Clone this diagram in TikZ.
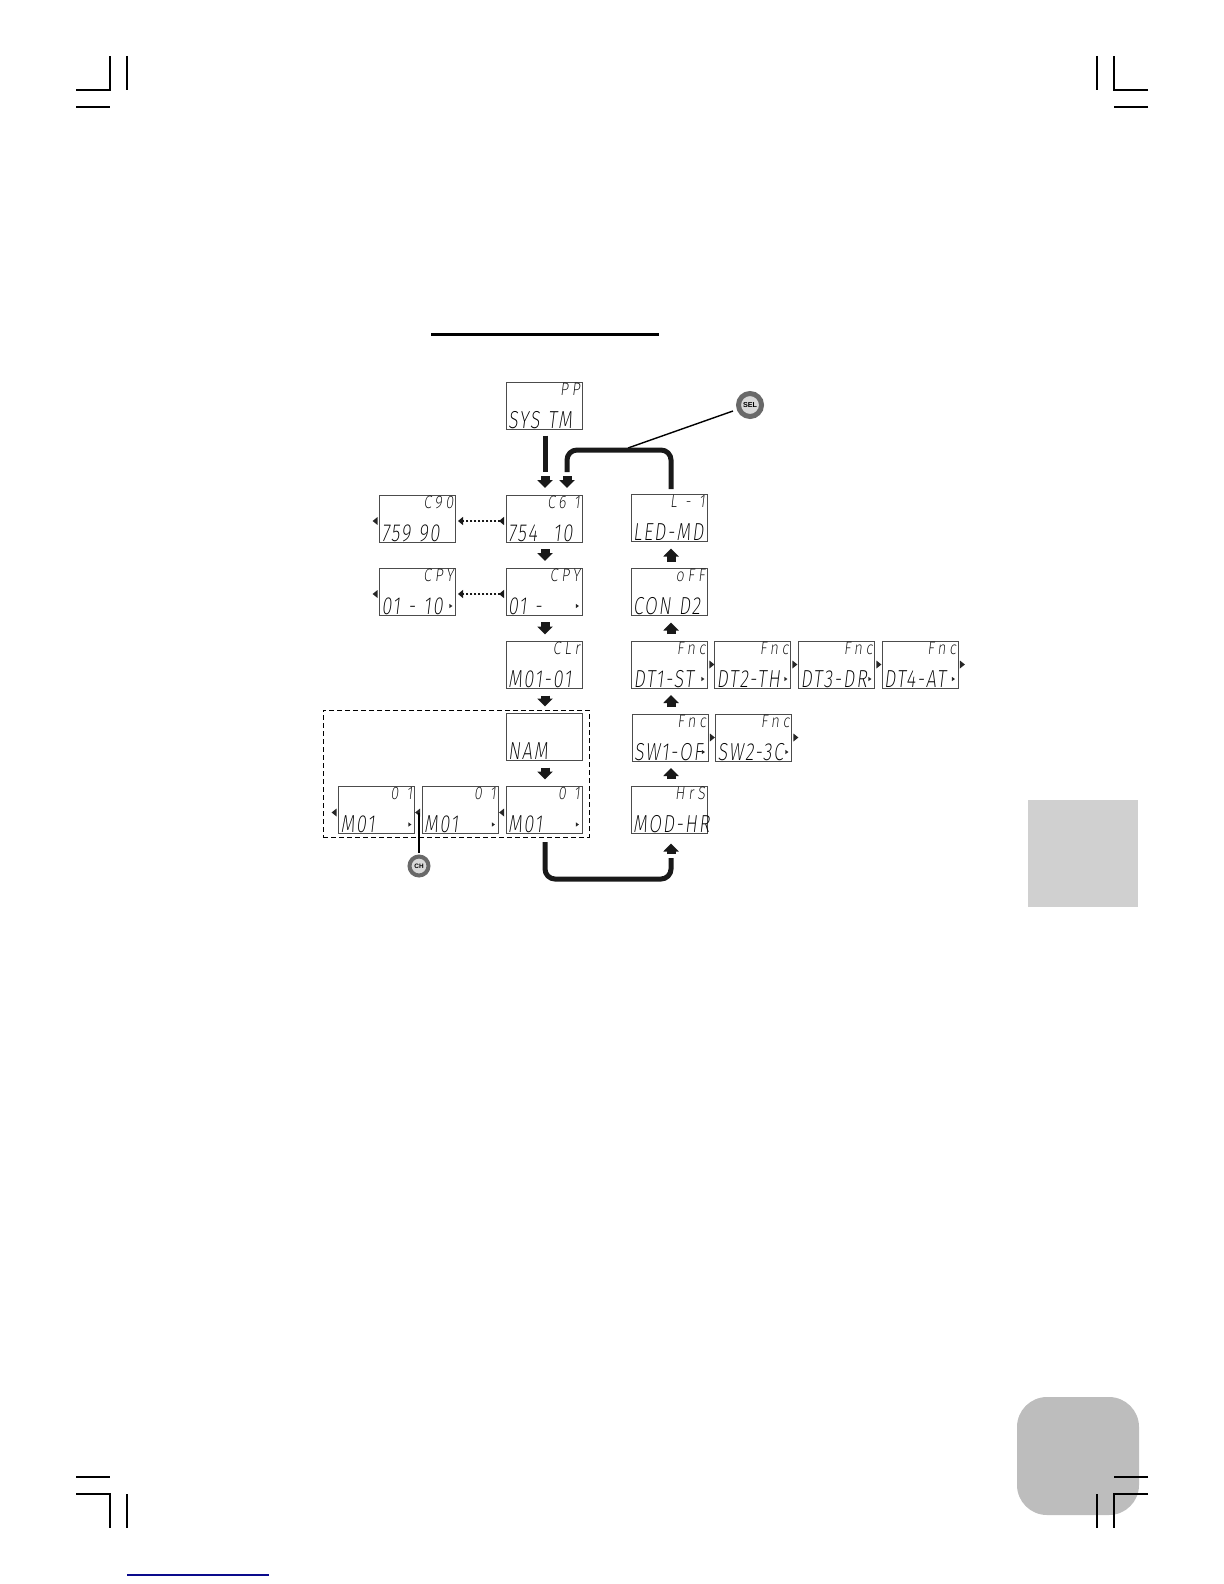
\documentclass[tikz,border=0pt]{standalone}
\usepackage{fontspec}
\usepackage{xcolor}
\usetikzlibrary{shapes.geometric, arrows.meta, positioning}
\newfontfamily\lcdfont[FakeSlant=0.12,FakeStretch=0.74,LetterSpace=7]{Fira Sans ExtraLight}
\newfontfamily\lcdupfont[FakeSlant=0.12,FakeStretch=0.8,LetterSpace=20]{Fira Sans ExtraLight}
\setsansfont{Liberation Sans}
\definecolor{tabgray}{RGB}{208,208,208}
\definecolor{pagegray}{RGB}{189,189,189}
\definecolor{ringgray}{RGB}{105,105,105}
\definecolor{linkblue}{RGB}{10,10,140}
\newcommand{\lcdtext}[2]{\hfill{\lcdupfont\fontsize{9}{9}\selectfont #1}\hspace{1.5pt}\\\mbox{#2}}

\begin{document}
\begin{tikzpicture}[
  x=0.5pt, y=-0.5pt,
  lcd/.style={rectangle, draw=black!70, line width=0.5pt, minimum width=38pt, minimum height=23.5pt,
              inner xsep=1pt, inner ysep=0pt, text width=36pt, align=left,
              font=\lcdfont\fontsize{12.3}{16.5}\selectfont},
  stub/.style={-{Triangle[length=4pt,width=7.5pt]}, line width=4.5pt, color=black!90,
               shorten <=3.25pt, shorten >=3.25pt},
  flow/.style={line width=2.5pt, rounded corners=5pt, color=black!90},
  dots/.style={{Triangle[reversed,length=2.5pt,width=4pt]}-{Triangle[length=2.5pt,width=4pt]}, line width=1pt,
               dash pattern=on 1.2pt off 0.8pt, color=black!90, shorten <=0.75pt, shorten >=1pt},
  tipl/.style={isosceles triangle, isosceles triangle stretches, shape border rotate=180, fill=black!85,
               minimum width=4pt, minimum height=2.5pt, inner sep=0pt, yshift=-1.25pt},
  tipr/.style={isosceles triangle, isosceles triangle stretches, fill=black!85,
               minimum width=4pt, minimum height=2.5pt, inner sep=0pt},
  cursor/.style={isosceles triangle, isosceles triangle stretches, fill=black!85, anchor=east,
               minimum width=2.2pt, minimum height=1.6pt, inner sep=0pt, xshift=-1.25pt, yshift=4.75pt},
  btn/.style={circle, draw=ringgray, fill=black!15, inner sep=0pt, font=\sffamily\bfseries},
  crop/.style={line width=0.55pt, color=black},
]
  % page furniture
  \useasboundingbox (0,0) rectangle (1224,1584);
  \node[fill=tabgray, minimum width=55pt, minimum height=53.5pt, inner sep=0pt] (tab) at (1083,853.5) {};
  \node[fill=pagegray, rounded corners=15pt, minimum width=61pt, minimum height=59pt, inner sep=0pt] (corner) at (1078,1456) {};
  \draw[line width=1.5pt] (431,334) -- (659,334);
  \draw[line width=0.6pt, color=linkblue] (127,1575) -- (269,1575);

  \draw[crop] (76,90) -- (110,90) -- (110,56);
  \draw[crop] (76,107) -- (110,107);
  \draw[crop] (127,56) -- (127,90);
  \draw[crop] (1148,90) -- (1114,90) -- (1114,56);
  \draw[crop] (1148,107) -- (1114,107);
  \draw[crop] (1097,56) -- (1097,90);
  \draw[crop] (76,1494) -- (110,1494) -- (110,1528);
  \draw[crop] (76,1477) -- (110,1477);
  \draw[crop] (127,1494) -- (127,1528);
  \draw[crop] (1148,1494) -- (1114,1494) -- (1114,1528);
  \draw[crop] (1148,1477) -- (1114,1477);
  \draw[crop] (1097,1494) -- (1097,1528);

  % centre column
  \node[lcd] (system) at (544,405.5) {\lcdtext{PP\hspace{5pt}}{SYS TM}};
  \node[lcd] (c61)    at (544,518.5) {\lcdtext{C6 1}{754\ \ 10}};
  \node[lcd] (cpy)    at (544,591.5) {\lcdtext{CPY}{01 -}};
  \node[lcd] (clr)    at (544,665)   {\lcdtext{CLr}{M01-01}};
  \node[lcd] (nam)    at (544,737)   {\lcdtext{\phantom{C}}{NAM}};
  \node[lcd] (m3)     at (544,810)   {\lcdtext{0 1\hspace{5pt}}{M01}};
  \node[lcd] (m2)     at (460,810)   {\lcdtext{0 1\hspace{5pt}}{M01}};
  \node[lcd] (m1)     at (376.5,810) {\lcdtext{0 1\hspace{5pt}}{M01}};
  \node[lcd] (c90)    at (417.5,518.5) {\lcdtext{C90}{759 90}};
  \node[lcd] (cpyb)   at (417.5,591.5) {\lcdtext{CPY}{01 - 10}};

  % right column
  \node[lcd] (led)  at (669,518)     {\lcdtext{L - 1}{LED-MD}};
  \node[lcd] (cond) at (669,592)     {\lcdtext{oFF}{CON D2}};
  \node[lcd] (dt1)  at (669.5,664.5) {\lcdtext{Fnc}{DT1-ST}};
  \node[lcd] (dt2)  at (752.5,664.5) {\lcdtext{Fnc}{DT2-TH}};
  \node[lcd] (dt3)  at (836.5,664.5) {\lcdtext{Fnc}{DT3-DR}};
  \node[lcd] (dt4)  at (920,664.5)   {\lcdtext{Fnc}{DT4-AT}};
  \node[lcd] (sw1)  at (670,737.5)   {\lcdtext{Fnc}{SW1-OF}};
  \node[lcd] (sw2)  at (753.5,737.5) {\lcdtext{Fnc}{SW2-3C}};
  \node[lcd] (mod)  at (669,809.5)   {\lcdtext{HrS}{MOD-HR}};

  % group around the module screens
  \node[draw, dashed, line width=0.5pt, dash pattern=on 2.5pt off 1.5pt, minimum width=133pt,
        minimum height=63.5pt, inner sep=0pt] (group) at (456,773.5) {};

  % small screen cursors
  \node[tipl, left=0.5pt of c90]  (c90l) {};
  \node[tipl, left=0.5pt of cpyb] (cpybl) {};
  \node[tipl, left=0.5pt of m1]   (m1l) {};
  \node[tipl, left=0.5pt of m2]   (m2l) {};
  \node[tipl, left=0.5pt of m3]   (m3l) {};
  \node[tipr, right=0.5pt of dt1] (dt1r) {};
  \node[tipr, right=0.5pt of dt2] (dt2r) {};
  \node[tipr, right=0.5pt of dt3] (dt3r) {};
  \node[tipr, right=0.5pt of dt4] (dt4r) {};
  \node[tipr, right=0.5pt of sw1] (sw1r) {};
  \node[tipr, right=0.5pt of sw2] (sw2r) {};
  \node[cursor] (cpyc)  at (cpy.south east)  {};
  \node[cursor] (cpybc) at (cpyb.south east) {};
  \node[cursor] (m1c)   at (m1.south east)   {};
  \node[cursor] (m2c)   at (m2.south east)   {};
  \node[cursor] (m3c)   at (m3.south east)   {};
  \node[cursor] (dt1c)  at (dt1.south east)  {};
  \node[cursor] (dt2c)  at (dt2.south east)  {};
  \node[cursor] (dt3c)  at (dt3.south east)  {};
  \node[cursor] (dt4c)  at (dt4.south east)  {};
  \node[cursor] (sw1c)  at (sw1.south east)  {};
  \node[cursor] (sw2c)  at (sw2.south east)  {};

  % buttons
  \node[btn, line width=2.5pt, minimum size=11.5pt, font=\sffamily\bfseries\fontsize{3.6}{4}\selectfont] (sel) at (750,405) {SEL};
  \node[btn, line width=2pt, minimum size=9.5pt, font=\sffamily\bfseries\fontsize{3.2}{4}\selectfont] (ch) at (419,866) {CH};
  \coordinate (selend) at (628,448);
  \draw[line width=0.7pt, shorten <=2pt] (sel) -- (selend);
  \draw[line width=0.8pt, shorten <=1pt] (ch.north) -- (ch.north |- m2l);

  % long thick connectors
  \coordinate (c61a) at (545,472);
  \coordinate (c61b) at (567,472);
  \coordinate (retmid) at (567,450);
  \coordinate (botl) at (545,879);
  \coordinate (botr) at (671,879);
  \coordinate (modin) at (671,858);
  \draw[flow] ([xshift=0.5pt,yshift=-3pt]system.south) -- (c61a);
  \draw[flow] ([xshift=1pt,yshift=2.5pt]led.north) |- (retmid) -- (c61b);
  \draw[flow] ([xshift=0.5pt,yshift=-4pt]m3.south) -- (botl) -- (botr) -- (modin);

  % block arrows
  \draw[stub, shorten <=2pt] (c61a) -- (c61.north -| c61a);
  \draw[stub, shorten <=2pt] (c61b) -- (c61.north -| c61b);
  \draw[stub] ([xshift=0.5pt]c61.south) -- ([xshift=0.5pt]cpy.north);
  \draw[stub] ([xshift=0.5pt]cpy.south) -- ([xshift=0.5pt]clr.north);
  \draw[stub] ([xshift=0.5pt]clr.south) -- ([xshift=0.5pt]nam.north);
  \draw[stub] ([xshift=0.5pt]nam.south) -- ([xshift=0.5pt]m3.north);
  \draw[stub, shorten <=2pt, shorten >=5pt] (modin) -- (mod.south -| modin);
  \draw[stub] ([xshift=1pt]mod.north) -- ([xshift=1pt]mod.north |- sw1.south);
  \draw[stub] ([xshift=1pt]sw1.north -| mod.north) -- ([xshift=1pt]mod.north |- dt1.south);
  \draw[stub] ([xshift=1pt]dt1.north -| mod.north) -- ([xshift=1pt]mod.north |- cond.south);
  \draw[stub] ([xshift=1pt]cond.north) -- ([xshift=1pt]led.south);

  % dotted links
  \draw[dots] ([yshift=-1.25pt]c61.west) -- ([yshift=-1.25pt]c90.east);
  \draw[dots] ([yshift=-1.25pt]cpy.west) -- ([yshift=-1.25pt]cpyb.east);
\end{tikzpicture}
\end{document}
